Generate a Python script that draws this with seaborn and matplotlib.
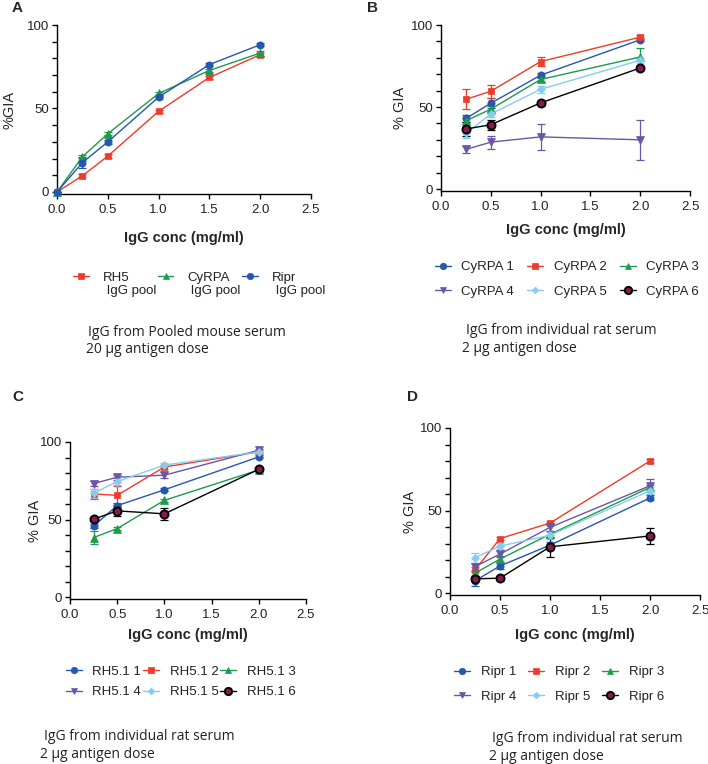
import numpy as np
import pandas as pd
import matplotlib
matplotlib.use("Agg")
import matplotlib.pyplot as plt
import seaborn as sns
from matplotlib.lines import Line2D
from matplotlib.legend_handler import HandlerLine2D
from matplotlib.ticker import MultipleLocator, FixedLocator, FuncFormatter

sns.set_style("ticks")
plt.rcParams['font.family'] = ['Liberation Sans', 'DejaVu Sans']

# ---------------- data ----------------
# Panel A (pooled mouse IgG)
a_x = [0, 0.25, 0.5, 1.0, 1.5, 2.0]
a_labels = ["RH5\n IgG pool", "CyRPA\n IgG pool", "Ripr\n IgG pool"]
a_rh5 = [0, 9.7, 21.5, 48.3, 68.6, 82.2]
a_cyrpa = [0, 21.1, 34.9, 59.0, 72.8, 83.2]
a_ripr = [0, 17.6, 30.0, 56.8, 76.3, 88.2]
a_rh5_err = [0, 1.0, 1.0, 1.0, 1.0, 1.0]
a_cyrpa_err = [0, 1.0, 1.0, 1.0, 1.0, 1.5]
a_ripr_err = [0, 3.5, 1.0, 1.0, 1.0, 1.0]

# Panels B-D (individual rat IgG)
rat_x = [0.25, 0.5, 1.0, 2.0]

b_labels = ["CyRPA 1", "CyRPA 2", "CyRPA 3", "CyRPA 4", "CyRPA 5", "CyRPA 6"]
b_vals = [
    [43.0, 52.3, 69.4, 91.0],
    [54.7, 59.6, 77.7, 92.6],
    [41.6, 48.7, 66.8, 80.5],
    [24.1, 28.6, 31.8, 30.0],
    [34.0, 45.7, 60.8, 78.5],
    [36.6, 39.2, 52.5, 73.8],
]
b_errs = [
    [2, 3, 1.5, 1],
    [6, 4, 3, 1],
    [2, 2, 1.5, 5.5],
    [2, 4, 8, 12],
    [3, 2, 2, 1.5],
    [4, 3, 1, 1],
]

c_labels = ["RH5.1 1", "RH5.1 2", "RH5.1 3", "RH5.1 4", "RH5.1 5", "RH5.1 6"]
c_vals = [
    [45.9, 59.0, 69.2, 90.4],
    [66.5, 65.6, 83.9, 93.6],
    [38.4, 44.2, 62.4, 82.0],
    [73.2, 77.3, 78.6, 94.7],
    [67.0, 74.5, 85.1, 93.6],
    [50.3, 55.6, 53.7, 82.4],
]
c_errs = [
    [1.5, 1.5, 1, 1],
    [3, 6, 1.5, 1.5],
    [4, 1, 1, 1],
    [1.5, 1.5, 2, 1],
    [3, 2, 1.5, 1],
    [1.5, 3, 4, 1],
]

d_labels = ["Ripr 1", "Ripr 2", "Ripr 3", "Ripr 4", "Ripr 5", "Ripr 6"]
d_vals = [
    [7.4, 16.4, 29.0, 57.6],
    [14.0, 33.0, 42.4, 80.0],
    [12.0, 20.6, 35.6, 64.0],
    [16.0, 23.6, 39.8, 65.0],
    [21.4, 28.4, 35.0, 62.0],
    [8.6, 9.0, 28.0, 34.6],
]
d_errs = [
    [3, 2, 2, 1.5],
    [1.5, 1, 1, 1],
    [1.5, 2, 2, 1.5],
    [2, 2, 2, 4],
    [3, 2, 2, 2],
    [1.5, 1, 6, 5],
]

y_ticks = [0, 10, 20, 30, 40, 50, 60, 70, 80, 90, 100]
y_labeled = [0, 50, 100]

# ---------------- styles ----------------
BLUE = "#2557b0"
RED = "#ee3b2b"
GREEN = "#1e9a4c"
PURPLE = "#6a55a6"
LBLUE = "#85cdee"
MAROON = "#8a1a52"

rat_styles = [
    dict(color=BLUE, marker="o", mfc=BLUE, mec=BLUE, ms=5.2, mew=0.5),
    dict(color=RED, marker="s", mfc=RED, mec=RED, ms=5.0, mew=0.5),
    dict(color=GREEN, marker="^", mfc=GREEN, mec=GREEN, ms=5.2, mew=0.5),
    dict(color=PURPLE, marker="v", mfc=PURPLE, mec=PURPLE, ms=5.2, mew=0.5),
    dict(color=LBLUE, marker="D", mfc=LBLUE, mec=LBLUE, ms=3.8, mew=0.5),
    dict(color="black", marker="o", mfc=MAROON, mec="black", ms=5.8, mew=1.4),
]
a_styles = [rat_styles[1], rat_styles[2], rat_styles[0]]

W, H = 708, 764
fig = plt.figure(figsize=(W / 100, H / 100), dpi=100)


def px_axes(left, right, top, bottom):
    return fig.add_axes([left / W, 1 - bottom / H, (right - left) / W, (bottom - top) / H])


def style_axes(ax, ylabel, xlabel_y, ylabel_x):
    ax.set_xlim(0, 2.5)
    ax.set_ylim(-1.2, 100)
    sns.despine(ax=ax)
    ax.spines['left'].set_bounds(-1.2, 100)
    for s in ("left", "bottom"):
        ax.spines[s].set_linewidth(1.0)
        ax.spines[s].set_color("black")
    ax.xaxis.set_major_locator(MultipleLocator(0.5))
    ax.yaxis.set_major_locator(FixedLocator(y_ticks))
    ax.yaxis.set_major_formatter(FuncFormatter(
        lambda v, p: f"{int(round(v))}" if int(round(v)) in y_labeled else ""))
    ax.xaxis.set_major_formatter(matplotlib.ticker.FormatStrFormatter("%.1f"))
    ax.tick_params(axis="both", which="major", direction="out", length=3.5, width=1.0,
                   colors="black", labelsize=9.5, labelcolor="#222222")
    ax.tick_params(axis="y", which="major", pad=2)
    ax.set_xlabel("IgG conc (mg/ml)", fontsize=10.5, fontweight="bold", labelpad=0)
    ax.set_ylabel(ylabel, fontsize=10.5, labelpad=0)
    ax.xaxis.set_label_coords(0.5, xlabel_y)
    ax.yaxis.set_label_coords(ylabel_x, 0.5)
    ax.set_facecolor("none")


def draw_series(ax, xs, ys, errs, st):
    ax.errorbar(xs, ys, yerr=errs, fmt="none", ecolor=st["color"], elinewidth=0.9,
                capsize=3, capthick=0.9, zorder=2, clip_on=False)
    df = pd.DataFrame({"x": xs, "y": ys})
    sns.lineplot(data=df, x="x", y="y", ax=ax, color=st["color"], marker=st["marker"],
                 markerfacecolor=st["mfc"], markeredgecolor=st["mec"],
                 markersize=st["ms"], markeredgewidth=st["mew"], linewidth=1.0,
                 legend=False, clip_on=False, zorder=3, errorbar=None)


def legend_handles(styles):
    return [Line2D([0], [0], color=st["color"], marker=st["marker"], markerfacecolor=st["mfc"],
                   markeredgecolor=st["mec"], markersize=st["ms"] * 0.9, markeredgewidth=st["mew"],
                   linewidth=1.0) for st in styles]


def row_major(items, ncol=3):
    nrow = int(np.ceil(len(items) / ncol))
    return [items[r * ncol + c] for c in range(ncol) for r in range(nrow)]


class UpHandler(HandlerLine2D):
    """Place the handle on the first line of a two-line label."""
    def create_artists(self, legend, orig_handle, xdescent, ydescent, width, height,
                       fontsize, trans):
        arts = super().create_artists(legend, orig_handle, xdescent, ydescent, width,
                                      height, fontsize, trans)
        for a in arts:
            a.set_ydata(np.asarray(a.get_ydata(), dtype=float) + 0.62 * fontsize)
        return arts


cap_font = dict(family=["Open Sans", "DejaVu Sans"], fontsize=10, color="#222222")

# ---------------- Panel A ----------------
axA = px_axes(57, 311, 25, 194)
for ys, es, st in zip([a_rh5, a_cyrpa, a_ripr], [a_rh5_err, a_cyrpa_err, a_ripr_err], a_styles):
    draw_series(axA, a_x, ys, es, st)
style_axes(axA, "%GIA", -0.22, -0.161)
fig.text(12 / W, 1 - 8 / H, "A", fontsize=11, fontweight="bold", va="center", ha="left")
hA = legend_handles(a_styles)
legA = axA.legend(hA, a_labels, loc="center left",
                  bbox_to_anchor=(73 / W, 1 - 284.5 / H), bbox_transform=fig.transFigure,
                  ncol=3, frameon=False, fontsize=9.5, handlelength=1.2, handletextpad=1.05,
                  columnspacing=0.12, borderaxespad=0, borderpad=0,
                  handler_map={h: UpHandler() for h in hA})
for t in legA.get_texts():
    t.set_color("#222222")
fig.text(88 / W, 1 - 332 / H, "IgG from Pooled mouse serum", va="center", ha="left", **cap_font)
fig.text(86 / W, 1 - 350 / H, "20 \u00b5g antigen dose", va="center", ha="left", **cap_font)

# ---------------- Panel B ----------------
axB = px_axes(441, 690, 25, 191)
for ys, es, st in zip(b_vals, b_errs, rat_styles):
    draw_series(axB, rat_x, ys, es, st)
style_axes(axB, "% GIA", -0.19, -0.137)
fig.text(367 / W, 1 - 8 / H, "B", fontsize=11, fontweight="bold", va="center", ha="left")
legB = axB.legend(row_major(legend_handles(rat_styles)), row_major(b_labels), loc="center left",
                  bbox_to_anchor=(435 / W, 1 - 279.5 / H), bbox_transform=fig.transFigure,
                  ncol=3, frameon=False, fontsize=9.5, handlelength=1.2, handletextpad=0.8,
                  columnspacing=1.0, labelspacing=0.95, borderaxespad=0, borderpad=0)
fig.text(466 / W, 1 - 330 / H, "IgG from individual rat serum", va="center", ha="left", **cap_font)
fig.text(462 / W, 1 - 349 / H, "2 \u00b5g antigen dose", va="center", ha="left", **cap_font)

# ---------------- Panel C ----------------
axC = px_axes(70, 306, 442, 599)
for ys, es, st in zip(c_vals, c_errs, rat_styles):
    draw_series(axC, rat_x, ys, es, st)
style_axes(axC, "% GIA", -0.185, -0.119)
fig.text(12 / W, 1 - 397 / H, "C", fontsize=11, fontweight="bold", va="center", ha="left")
legC = axC.legend(row_major(legend_handles(rat_styles)), row_major(c_labels), loc="center left",
                  bbox_to_anchor=(66 / W, 1 - 682 / H), bbox_transform=fig.transFigure,
                  ncol=3, frameon=False, fontsize=9.5, handlelength=1.2, handletextpad=0.8,
                  columnspacing=0.15, labelspacing=0.62, borderaxespad=0, borderpad=0)
fig.text(44 / W, 1 - 737 / H, "IgG from individual rat serum", va="center", ha="left", **cap_font)
fig.text(40 / W, 1 - 755 / H, "2 \u00b5g antigen dose", va="center", ha="left", **cap_font)

# ---------------- Panel D ----------------
axD = px_axes(450, 700, 428, 595)
for ys, es, st in zip(d_vals, d_errs, rat_styles):
    draw_series(axD, rat_x, ys, es, st)
style_axes(axD, "% GIA", -0.195, -0.132)
fig.text(407 / W, 1 - 397 / H, "D", fontsize=11, fontweight="bold", va="center", ha="left")
legD = axD.legend(row_major(legend_handles(rat_styles)), row_major(d_labels), loc="center left",
                  bbox_to_anchor=(454 / W, 1 - 684.5 / H), bbox_transform=fig.transFigure,
                  ncol=3, frameon=False, fontsize=9.5, handlelength=1.2, handletextpad=0.85,
                  columnspacing=0.88, labelspacing=0.95, borderaxespad=0, borderpad=0)
fig.text(492 / W, 1 - 738 / H, "IgG from individual rat serum", va="center", ha="left", **cap_font)
fig.text(489 / W, 1 - 757 / H, "2 \u00b5g antigen dose", va="center", ha="left", **cap_font)

for lg in (legB, legC, legD):
    for t in lg.get_texts():
        t.set_color("#222222")

fig.savefig("out.png", dpi=100, facecolor="white")
